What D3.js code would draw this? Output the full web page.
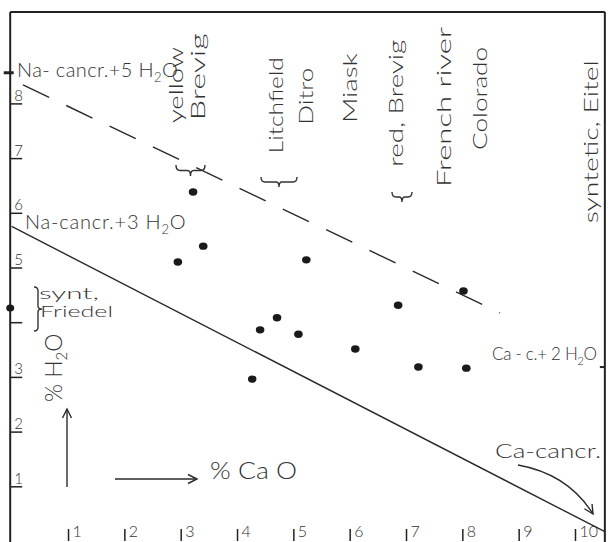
<!DOCTYPE html>
<html>
<head>
<meta charset="utf-8">
<script src="https://cdn.jsdelivr.net/npm/d3@7"></script>
<style>
  html, body { margin: 0; padding: 0; background: #fff; }
  svg { display: block; }
  text { font-family: Lato, "Open Sans", sans-serif; font-weight: 300; fill: #333; }
  .dataline { fill: none; stroke: #2a2a2a; stroke-width: 1.4; }
  .frame { stroke: #222; stroke-width: 2; }
  .tick line { stroke: #222; stroke-width: 1.5; }
</style>
</head>
<body>
<div id="chart"></div>
<script>
// % CaO vs % H2O of the cancrinites
const caO = [2.95, 3.22, 3.40, 4.27, 4.41, 4.71, 5.09, 5.23, 6.10, 6.86, 7.22, 8.02, 8.07];
const h2o = [5.10, 6.38, 5.39, 2.96, 3.86, 4.08, 3.78, 5.14, 3.51, 4.31, 3.18, 4.57, 3.16];

const xTicks = [1, 2, 3, 4, 5, 6, 7, 8, 9, 10];
const yTicks = [1, 2, 3, 4, 5, 6, 7, 8];
const yTickLabels = ["1", "2", "3", "", "5", "6", "7", "8"];

// theoretical lines (CaO, H2O)
const na3Line = [[0, 5.75], [10.53, 0.17]];
const na5Line = [[0.2, 8.34], [8.67, 4.17]];

// points sitting on the frame
const naFiveMark = [0, 8.56];
const syntFriedel = [0, 4.26];
const caTwoMark = [10.53, 3.18];

// localities written across the top: [name, CaO position, bottom H2O, length px]
const localities = [
    ["yellow", 3.04, 7.64, 76],
    ["Brevig", 3.43, 7.69, 87],
    ["Litchfield", 4.82, 7.09, 96],
    ["Ditro", 5.35, 7.61, 57],
    ["Miask", 6.13, 7.64, 70],
    ["red, Brevig", 6.95, 6.84, 127],
    ["French river", 7.80, 6.47, 160],
    ["Colorado", 8.43, 7.15, 103],
    ["syntetic, Eitel", 10.41, 5.81, 163]
];

const width = 608;
const height = 542;

const x = d3.scaleLinear().domain([0, 10]).range([11.7, 575]);
const y = d3.scaleLinear().domain([0, 8]).range([541, 103.4]);

const svg = d3.select("#chart")
              .append("svg")
              .attr("width", width)
              .attr("height", height);

const defs = svg.append("defs");
defs.append("marker")
    .attr("id", "head")
    .attr("viewBox", "-10 -6 12 12")
    .attr("markerWidth", 12)
    .attr("markerHeight", 12)
    .attr("markerUnits", "userSpaceOnUse")
    .attr("orient", "auto")
    .append("path")
    .attr("d", "M-9,-4.5 L0,0 L-9,4.5")
    .attr("fill", "none")
    .attr("stroke", "#2a2a2a")
    .attr("stroke-width", 1.4);

// frame
svg.append("line").attr("class", "frame")
   .attr("x1", x(0) - 1.5).attr("x2", x(0) - 1.5).attr("y1", 12).attr("y2", height);
svg.append("line").attr("class", "frame")
   .attr("x1", x(0) - 1.5).attr("x2", x(10.53)).attr("y1", 12).attr("y2", 12);
svg.append("line").attr("class", "frame")
   .attr("x1", x(10.53)).attr("x2", x(10.53)).attr("y1", 12).attr("y2", height);

// axes
const xAxis = d3.axisBottom(x).tickValues(xTicks).tickSize(-12).tickFormat(d3.format("d"));
const gx = svg.append("g")
              .attr("transform", "translate(0," + 541 + ")")
              .call(xAxis);
gx.select(".domain").remove();
gx.selectAll("text")
  .attr("x", 4)
  .attr("y", -4)
  .attr("dy", 0)
  .attr("text-anchor", "start")
  .style("font-size", "16px")
  .style("font-family", "Lato, sans-serif")
  .style("font-weight", 300)
  .style("fill", "#333");

const yAxis = d3.axisLeft(y).tickValues(yTicks).tickSize(-12).tickFormat((d, i) => yTickLabels[i]);
const gy = svg.append("g")
              .attr("transform", "translate(" + (x(0) - 1.5) + ",0)")
              .call(yAxis);
gy.select(".domain").remove();
gy.selectAll("text")
  .attr("x", 4)
  .attr("y", -3)
  .attr("dy", 0)
  .attr("text-anchor", "start")
  .style("font-size", "15px")
  .style("font-family", "Lato, sans-serif")
  .style("font-weight", 300)
  .style("fill", "#333");

// lines
const lineGen = d3.line().x(d => x(d[0])).y(d => y(d[1]));
svg.append("path").attr("class", "dataline").attr("d", lineGen(na3Line));
svg.append("path").attr("class", "dataline")
   .attr("d", lineGen(na5Line))
   .attr("stroke-dasharray", "29 19");

// small marks on the frame
svg.append("line")
   .attr("x1", x(naFiveMark[0]) - 8).attr("x2", x(naFiveMark[0]) + 2)
   .attr("y1", y(naFiveMark[1])).attr("y2", y(naFiveMark[1]))
   .attr("stroke", "#222").attr("stroke-width", 3);
svg.append("line")
   .attr("x1", x(caTwoMark[0]) - 5).attr("x2", x(caTwoMark[0]))
   .attr("y1", y(caTwoMark[1])).attr("y2", y(caTwoMark[1]))
   .attr("stroke", "#222").attr("stroke-width", 2);
svg.append("ellipse")
   .attr("cx", x(syntFriedel[0]) - 1.5).attr("cy", y(syntFriedel[1]))
   .attr("rx", 4).attr("ry", 3.5).attr("fill", "#1a1a1a");

// analyses
svg.selectAll(".pt")
   .data(caO)
   .enter()
   .append("ellipse")
   .attr("class", "pt")
   .attr("cx", d => x(d))
   .attr("cy", (d, i) => y(h2o[i]))
   .attr("rx", 4.3)
   .attr("ry", 3.7)
   .attr("fill", "#1a1a1a");

// vertical locality names
svg.selectAll(".loc")
   .data(localities)
   .enter()
   .append("text")
   .attr("class", "loc")
   .attr("transform", d => "translate(" + x(d[1]) + "," + y(d[2]) + ") rotate(-90)")
   .attr("textLength", d => d[3])
   .attr("lengthAdjust", "spacingAndGlyphs")
   .style("font-size", "19px")
   .text(d => d[0]);

// curly braces
function brace(x1, y1, x2, y2, w) {
    // brace from (x1,y1) to (x2,y2), bulging to the left of the direction by w
    const len = Math.hypot(x2 - x1, y2 - y1);
    const ux = (x2 - x1) / len, uy = (y2 - y1) / len;
    const nx = uy, ny = -ux;
    const p = (t, s) => [x1 + ux * t + nx * s, y1 + uy * t + ny * s];
    const m = len / 2;
    const a = p(0, 0), d = p(m - 3, w / 2), e = p(m, w), f = p(m + 3, w / 2), k = p(len, 0);
    return "M" + a + " Q" + p(0, w / 2) + " " + p(4, w / 2) + " L" + d + " Q" + p(m, w / 2) + " " + e +
           " Q" + p(m, w / 2) + " " + f + " L" + p(len - 4, w / 2) + " Q" + p(len, w / 2) + " " + k;
}
const braceStyle = sel => sel.attr("fill", "none").attr("stroke", "#333").attr("stroke-width", 1.4);
svg.append("path").attr("d", brace(205, 165, 176, 165, 11)).call(braceStyle);
svg.append("path").attr("d", brace(297, 177, 261, 177, 10)).call(braceStyle);
svg.append("path").attr("d", brace(412, 192, 392, 192, 10)).call(braceStyle);
svg.append("path").attr("d", brace(34, 287, 34, 331, 8)).call(braceStyle);

// labels
function chem(sel, parts) {
    parts.forEach(p => {
        const t = sel.append("tspan").text(p[0]);
        if (p[1] === "sub") t.attr("dy", 5).style("font-size", "0.65em");
        if (p[1] === "up") t.attr("dy", -5);
    });
    return sel;
}

chem(svg.append("text").attr("x", 17).attr("y", 77)
        .style("font-size", "20px").style("letter-spacing", "0.4px"),
     [["Na- cancr.+5 H"], ["2", "sub"], ["O", "up"]]);

chem(svg.append("text").attr("x", 25).attr("y", 229)
        .style("font-size", "20px").style("letter-spacing", "0.8px"),
     [["Na-cancr.+3 H"], ["2", "sub"], ["O", "up"]]);

svg.append("text").attr("x", 39).attr("y", 299)
   .attr("textLength", 60).attr("lengthAdjust", "spacingAndGlyphs")
   .style("font-size", "16px").text("synt,");
svg.append("text").attr("x", 40).attr("y", 317)
   .attr("textLength", 73).attr("lengthAdjust", "spacingAndGlyphs")
   .style("font-size", "16px").text("Friedel");

chem(svg.append("text").attr("x", 492).attr("y", 360)
        .style("font-size", "17px").style("letter-spacing", "-0.3px"),
     [["Ca - c.+ 2 H"], ["2", "sub"], ["O", "up"]]);

svg.append("text").attr("x", 495).attr("y", 458)
   .attr("textLength", 106).attr("lengthAdjust", "spacingAndGlyphs")
   .style("font-size", "19px").text("Ca-cancr.");

svg.append("text").attr("x", 210).attr("y", 479)
   .attr("textLength", 87).attr("lengthAdjust", "spacingAndGlyphs")
   .style("font-size", "24px").text("% Ca O");

chem(svg.append("text")
        .attr("transform", "translate(" + 62 + "," + 402 + ") rotate(-90)")
        .style("font-size", "23px"),
     [["% H"], ["2", "sub"], ["O", "up"]]);

// arrows
const arrow = (d) => svg.append("path").attr("d", d)
                         .attr("fill", "none").attr("stroke", "#2a2a2a")
                         .attr("stroke-width", 1.4).attr("marker-end", "url(#head)");
arrow("M67,487 L67,409");
arrow("M115,479 L197,479");
arrow("M518,465 Q568,474 593,514");
</script>
</body>
</html>
